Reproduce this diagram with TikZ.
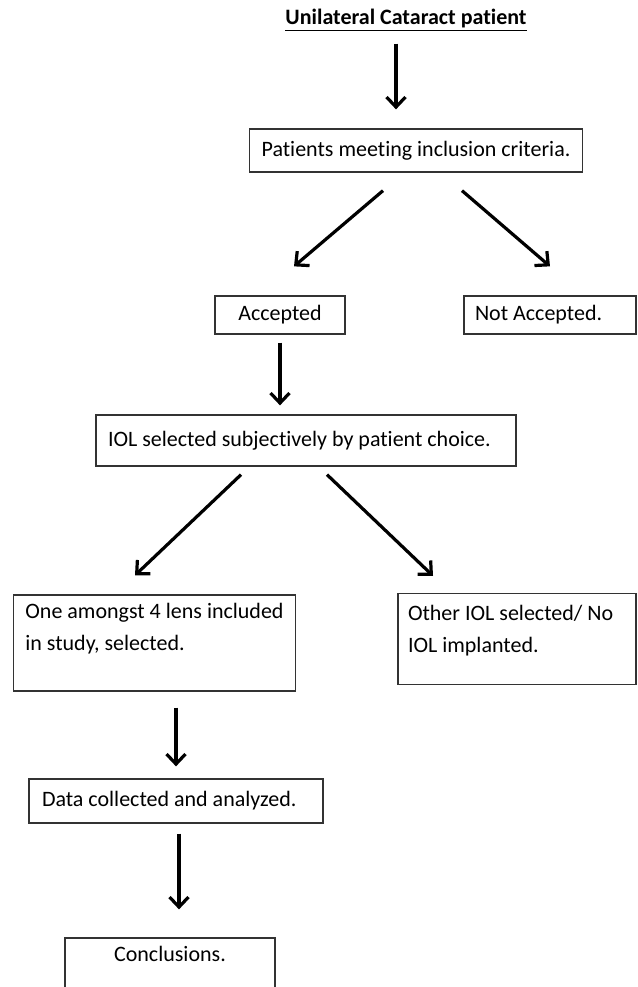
\documentclass[tikz,border=0pt]{standalone}
\usepackage{fontspec}
\setmainfont{Carlito}[Ligatures=NoCommon]
\usepackage{tikz}
\usetikzlibrary{shapes,arrows.meta}
\tikzstyle{block} = [rectangle, draw=black!80, line width=1.3pt,
    align=flush left, inner xsep=12pt]
\tikzstyle{line} = [draw, line width=3.2pt, -{Straight Barb[length=10pt,width=19pt]}]

\begin{document}
\begin{tikzpicture}[x=1pt, y=-1pt, every node/.style={font=\fontsize{22}{32}\selectfont}]
\useasboundingbox (0,0) rectangle (637,987);
\clip (0,0) rectangle (637,987);

\node [inner sep=2pt] at (406,20) (title) {\underline{\textbf{Unilateral Cataract patient}}};
\node [block, minimum width=332pt, minimum height=43pt] at (416,150.5) (crit) {Patients meeting inclusion criteria.};
\node [block, minimum width=130pt, minimum height=38pt] at (280,315) (acc) {Accepted};
\node [block, text width=150pt, inner xsep=11pt, minimum height=38pt] at (550,315) (notacc) {Not Accepted.};
\node [block, text width=396pt, minimum height=51pt] at (306,440.5) (iol) {IOL selected subjectively by patient choice.};
\node [block, minimum width=277pt, minimum height=96pt] at (154.5,643) (lens) {One amongst 4 lens included\\in study, selected.\\ \mbox{}};
\node [block, text width=218pt, inner xsep=10pt, minimum height=91pt] at (517,639) (other) {Other IOL selected/ No\\IOL implanted.\\[-12pt] \mbox{}};
\node [block, text width=268pt, inner xsep=13pt, minimum height=44pt] at (176,801) (data) {Data collected and analyzed.};
\node [block, align=center, minimum width=210pt, minimum height=64pt] at (170,970) (concl) {Conclusions.\\ \mbox{}};

\draw [line] ([xshift=-10pt, yshift=-11pt] title.south) -- ([xshift=-20pt, yshift=19pt] crit.north);
\draw [line] ([xshift=-33pt, yshift=-18pt] crit.south) -- ([xshift=14pt, yshift=29pt] acc.north);
\draw [line] ([xshift=46pt, yshift=-18pt] crit.south) -- ([yshift=29pt] notacc.north);
\draw [line] ([yshift=-8pt] acc.south) -- ([xshift=-26pt, yshift=9pt] iol.north);
\draw [line] ([xshift=-65pt, yshift=-8pt] iol.south) -- ([xshift=-19.5pt, yshift=19pt] lens.north);
\draw [line] ([xshift=21pt, yshift=-8pt] iol.south) -- ([xshift=-84pt, yshift=17pt] other.north);
\draw [line] ([xshift=21.5pt, yshift=-16pt] lens.south) -- ([yshift=12pt] data.north);
\draw [line] ([xshift=3pt, yshift=-10pt] data.south) -- ([xshift=9pt, yshift=28pt] concl.north);
\end{tikzpicture}
\end{document}
